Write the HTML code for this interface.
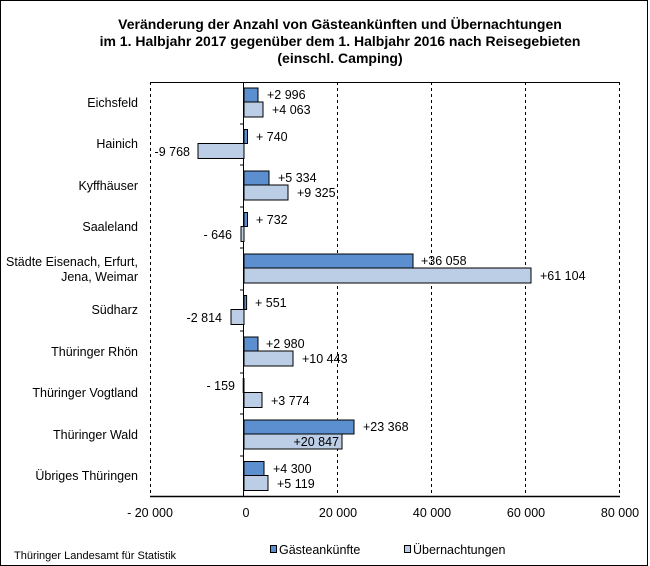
<!DOCTYPE html>
<html><head><meta charset="utf-8"><style>
body{margin:0;background:#fff}
svg{display:block;font-family:"Liberation Sans",sans-serif}
</style></head><body>
<svg width="650" height="566" viewBox="0 0 650 566">
<rect x="0.5" y="0.5" width="647" height="565" fill="#fff" stroke="#000"/>
<g font-weight="bold" font-size="14" text-anchor="middle" fill="#000">
<text x="340" y="29">Veränderung der Anzahl von Gästeankünften und Übernachtungen</text>
<text x="340" y="46">im 1. Halbjahr 2017 gegenüber dem 1. Halbjahr 2016 nach Reisegebieten</text>
<text x="340" y="63">(einschl. Camping)</text>
</g>
<g stroke="#000" stroke-dasharray="3,3" stroke-width="1">
<line x1="150.5" y1="82" x2="150.5" y2="496"/>
<line x1="337.5" y1="82" x2="337.5" y2="496"/>
<line x1="431.5" y1="82" x2="431.5" y2="496"/>
<line x1="525.5" y1="82" x2="525.5" y2="496"/>
<line x1="619.5" y1="82" x2="619.5" y2="496"/>
</g>
<line x1="150" y1="82.5" x2="620" y2="82.5" stroke="#000"/>
<line x1="150" y1="496.5" x2="620" y2="496.5" stroke="#000" stroke-width="1.5"/>
<line x1="243.5" y1="82" x2="243.5" y2="497" stroke="#000"/>
<g stroke="#000">
<line x1="240" y1="124" x2="244" y2="124"/><line x1="240" y1="165" x2="244" y2="165"/>
<line x1="240" y1="207" x2="244" y2="207"/><line x1="240" y1="248" x2="244" y2="248"/>
<line x1="240" y1="290" x2="244" y2="290"/><line x1="240" y1="331" x2="244" y2="331"/>
<line x1="240" y1="373" x2="244" y2="373"/><line x1="240" y1="414" x2="244" y2="414"/>
<line x1="240" y1="456" x2="244" y2="456"/>
</g>
<g stroke="#000" stroke-width="1">
<rect x="244" y="88" width="14" height="14" fill="#5b8fd0"/>
<rect x="244" y="102" width="19" height="15" fill="#bccde6"/>
<rect x="244" y="129.5" width="3.5" height="14" fill="#5b8fd0"/>
<rect x="198" y="143.5" width="46" height="15" fill="#bccde6"/>
<rect x="244" y="171" width="25" height="14" fill="#5b8fd0"/>
<rect x="244" y="185" width="44" height="15" fill="#bccde6"/>
<rect x="244" y="212.5" width="3.5" height="14" fill="#5b8fd0"/>
<rect x="241" y="226.5" width="3" height="15" fill="#bccde6"/>
<rect x="244" y="254" width="169" height="14" fill="#5b8fd0"/>
<rect x="244" y="268" width="287" height="15" fill="#bccde6"/>
<rect x="244" y="295.5" width="2.6" height="14" fill="#5b8fd0"/>
<rect x="231" y="309.5" width="13" height="15" fill="#bccde6"/>
<rect x="244" y="337" width="14" height="14" fill="#5b8fd0"/>
<rect x="244" y="351" width="49" height="15" fill="#bccde6"/>
<rect x="243.2" y="378.5" width="0.8" height="14" fill="#5b8fd0"/>
<rect x="244" y="392.5" width="18" height="15" fill="#bccde6"/>
<rect x="244" y="420" width="110" height="14" fill="#5b8fd0"/>
<rect x="244" y="434" width="98" height="15" fill="#bccde6"/>
<rect x="244" y="461.5" width="20" height="14" fill="#5b8fd0"/>
<rect x="244" y="475.5" width="24" height="15" fill="#bccde6"/>
</g>
<g font-size="12.5" fill="#000">
<text x="267" y="99">+2 996</text><text x="272" y="114">+4 063</text>
<text x="256" y="141">+ 740</text><text x="190" y="156" text-anchor="end">-9 768</text>
<text x="278" y="182">+5 334</text><text x="297" y="197">+9 325</text>
<text x="256" y="224">+ 732</text><text x="232" y="239" text-anchor="end">- 646</text>
<text x="421" y="265">+36 058</text><text x="540" y="280">+61 104</text>
<text x="255" y="307">+ 551</text><text x="222" y="322" text-anchor="end">-2 814</text>
<text x="266" y="348">+2 980</text><text x="302" y="363">+10 443</text>
<text x="235" y="390" text-anchor="end">- 159</text><text x="271" y="405">+3 774</text>
<text x="363" y="431">+23 368</text><text x="339" y="446" text-anchor="end">+20 847</text>
<text x="273" y="473">+4 300</text><text x="277" y="488">+5 119</text>
</g>
<g font-size="12.5" fill="#000" text-anchor="end">
<text x="138" y="107">Eichsfeld</text>
<text x="138" y="148">Hainich</text>
<text x="138" y="190">Kyffhäuser</text>
<text x="138" y="231">Saaleland</text>
<text x="138" y="266">Städte Eisenach, Erfurt,</text>
<text x="138" y="281">Jena, Weimar</text>
<text x="138" y="314">Südharz</text>
<text x="138" y="356">Thüringer Rhön</text>
<text x="138" y="397">Thüringer Vogtland</text>
<text x="138" y="439">Thüringer Wald</text>
<text x="138" y="480">Übriges Thüringen</text>
</g>
<g font-size="12.5" fill="#000" text-anchor="middle">
<text x="150" y="517">- 20 000</text>
<text x="246" y="517">0</text>
<text x="338" y="517">20 000</text>
<text x="432" y="517">40 000</text>
<text x="526" y="517">60 000</text>
<text x="620" y="517">80 000</text>
</g>
<rect x="270.5" y="545.5" width="6" height="7" fill="#5b8fd0" stroke="#000"/>
<text x="279" y="554" font-size="12.5">Gästeankünfte</text>
<rect x="404.5" y="545.5" width="6" height="7" fill="#bccde6" stroke="#000"/>
<text x="413" y="554" font-size="12.5">Übernachtungen</text>
<text x="14" y="559" font-size="11">Thüringer Landesamt für Statistik</text>
</svg>
</body></html>
